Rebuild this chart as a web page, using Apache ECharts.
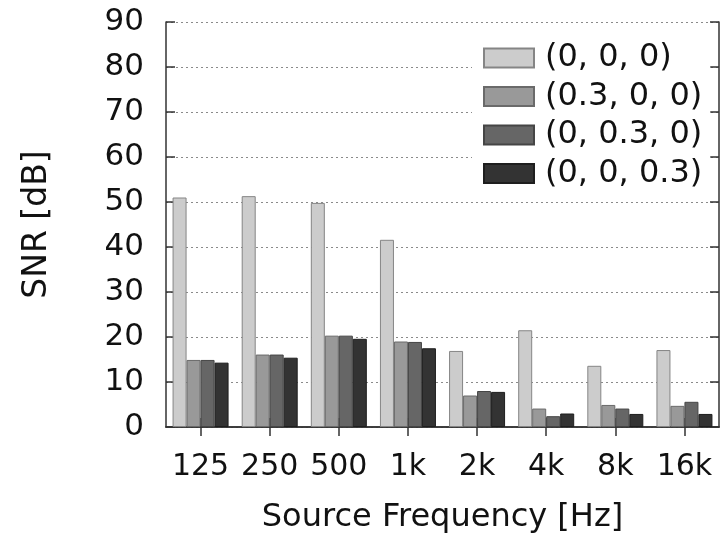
<!DOCTYPE html>
<html>
<head>
<meta charset="utf-8">
<script src="https://cdn.jsdelivr.net/npm/echarts@6/dist/echarts.min.js"></script>
<style>
html,body{margin:0;padding:0;background:#fff;}
#main{width:721px;height:539px;}
</style>
</head>
<body>
<div id="main"></div>
<script>
const categories = ['125', '250', '500', '1k', '2k', '4k', '8k', '16k'];
const seriesNames = ['(0, 0, 0)', '(0.3, 0, 0)', '(0, 0.3, 0)', '(0, 0, 0.3)'];
const s000 = [51.0, 51.3, 49.8, 41.6, 16.9, 21.5, 13.6, 17.1];
const s300 = [14.9, 16.1, 20.3, 19.0, 7.0, 4.1, 4.9, 4.7];
const s030 = [14.9, 16.1, 20.3, 18.9, 8.0, 2.4, 4.1, 5.6];
const s003 = [14.3, 15.4, 19.6, 17.5, 7.8, 3.0, 2.9, 2.9];
const yTicks = [0, 10, 20, 30, 40, 50, 60, 70, 80, 90];

const fills = ['#cccccc', '#999999', '#666666', '#333333'];
const borders = ['#858585', '#6a6a6a', '#454545', '#1e1e1e'];
const values = [s000, s300, s030, s003];
const FONT = 'DejaVu Sans';

const chart = echarts.init(document.getElementById('main'), null, {renderer: 'canvas'});
const axisLine = {show: true, lineStyle: {color: '#333', width: 1.5}};
const option = {
  backgroundColor: '#fff',
  animation: false,
  grid: {left: 166, right: 2, top: 22, bottom: 112, containLabel: false},
  legend: {
    orient: 'vertical',
    left: 472,
    top: 32,
    padding: [10, 8, 10, 11],
    backgroundColor: '#fff',
    icon: 'rect',
    itemWidth: 50,
    itemHeight: 19,
    itemGap: 6.5,
    align: 'left',
    textStyle: {fontFamily: FONT, fontSize: 32, color: '#111', lineHeight: 20, padding: [4, 0, 0, 6]},
    data: seriesNames
  },
  xAxis: [{
    type: 'category',
    data: categories,
    position: 'bottom',
    axisLine: axisLine,
    axisTick: {show: true, inside: true, alignWithLabel: true, length: 9, lineStyle: {color: '#333', width: 1.5}},
    axisLabel: {fontFamily: FONT, fontSize: 30, color: '#111', margin: 25, interval: 0},
    name: 'Source Frequency [Hz]',
    nameLocation: 'middle',
    nameGap: 75,
    nameTextStyle: {fontFamily: FONT, fontSize: 32, color: '#111'}
  }, {
    type: 'category',
    data: categories,
    position: 'top',
    axisLine: axisLine,
    axisTick: {show: true, inside: true, alignWithLabel: true, length: 9, lineStyle: {color: '#333', width: 1.5}},
    axisLabel: {show: false}
  }],
  yAxis: [{
    type: 'value',
    min: 0, max: 90, interval: 10,
    position: 'left',
    axisLine: axisLine,
    axisTick: {show: true, inside: true, length: 9, lineStyle: {color: '#333', width: 1.5}},
    axisLabel: {fontFamily: FONT, fontSize: 31, color: '#111', margin: 22,
      formatter: v => yTicks.includes(v) ? String(v) : ''},
    splitLine: {show: true, lineStyle: {color: '#8a8a8a', width: 1, type: [2, 3]}},
    name: 'SNR [dB]',
    nameLocation: 'middle',
    nameGap: 112,
    nameTextStyle: {fontFamily: FONT, fontSize: 33, color: '#111'}
  }, {
    type: 'value',
    min: 0, max: 90, interval: 10,
    position: 'right',
    axisLine: axisLine,
    axisTick: {show: true, inside: true, length: 9, lineStyle: {color: '#333', width: 1.5}},
    axisLabel: {show: false},
    splitLine: {show: false}
  }],
  series: seriesNames.map((name, i) => ({
    name: name,
    type: 'bar',
    xAxisIndex: 0,
    yAxisIndex: 0,
    data: values[i],
    barWidth: 14,
    barGap: '0%',
    itemStyle: {color: fills[i], borderColor: borders[i], borderWidth: 1}
  }))
};
chart.setOption(option);
</script>
</body>
</html>
